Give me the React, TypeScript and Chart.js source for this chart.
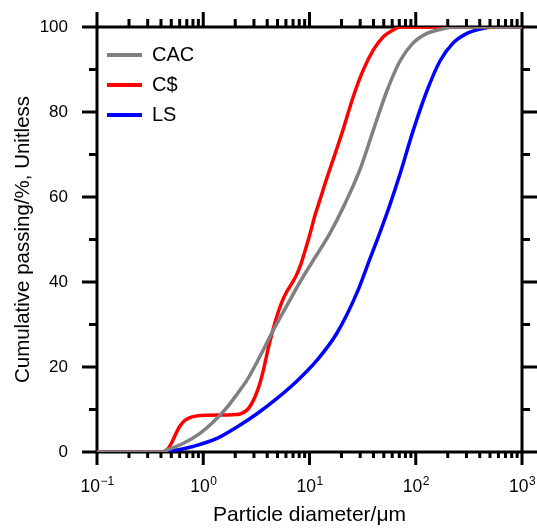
import { useEffect, useRef } from "react";
import { Chart, registerables } from "chart.js";

Chart.register(...registerables);

const FONT = '"Liberation Sans", Arial, Helvetica, sans-serif';

// Series names and colours (legend order)
const seriesNames = ["CAC", "C$", "LS"];
const seriesColors = ["#808080", "#ff0000", "#0000ff"];

// Cumulative passing curves: particle diameter (µm) vs passing (%)
const cacDiameter = [0.1, 0.41, 0.4365, 0.645, 0.932, 1.235, 1.673, 2.078, 2.58, 3.42, 4.53, 6.14, 8.14, 10.79, 15.6, 20.7, 29.9, 39.6, 53.6, 71.1, 94.2, 127.6, 169.1, 224.2, 1000];
const cacPassing = [0, 0, 0.3, 2, 4.4, 7, 10.5, 13.6, 16.9, 22.5, 28.5, 34.5, 40, 45, 51.5, 57.5, 66.5, 75.5, 85, 92, 96.2, 98.5, 99.4, 100, 100];

const csDiameter = [0.1, 0.42, 0.46, 0.5, 0.55, 0.6, 0.67, 0.75, 0.87, 1.1, 1.6, 2.06, 2.3, 2.56, 2.8, 3.07, 3.4, 3.7, 4.1, 4.56, 5.09, 5.6, 6.2, 6.8, 7.5, 8.3, 9.2, 10.1, 11.3, 12.6, 14.5, 16.75, 20.8, 25.8, 32.1, 39.9, 49.5, 61.5, 71, 1000];
const csPassing = [0, 0, 0.6, 2, 4.2, 6, 7.4, 8.1, 8.5, 8.65, 8.7, 8.8, 9.1, 9.8, 11, 13, 16, 19.5, 24.5, 29, 33, 35.8, 38, 39.6, 41.5, 44.2, 47.8, 51.3, 55.8, 59.5, 64.3, 68.9, 76, 83.6, 89.9, 94.6, 97.7, 99.3, 100, 100];

const lsDiameter = [0.1, 0.42, 0.4365, 0.604, 0.801, 1.347, 2.078, 3.205, 4.944, 7.627, 11.77, 18.15, 28.0, 37.1, 46.1, 57.2, 71.1, 94.2, 127.6, 169.1, 224.2, 303.6, 402.4, 533, 1000];
const lsPassing = [0, 0, 0.1, 0.6, 1.3, 3.2, 5.9, 9.0, 12.6, 16.7, 21.6, 28, 37.5, 45.5, 51.7, 58.2, 65.4, 75.5, 85, 92, 96.2, 98.5, 99.5, 100, 100];

// Axis ticks
const yMajorTicks = [0, 20, 40, 60, 80, 100];
const yMinorTicks = [10, 30, 50, 70, 90];
const xDecades = [0.1, 1, 10, 100, 1000];
const xExponents = ["\u22121", "0", "1", "2", "3"];
const xMinorMultipliers = [2, 3, 4, 5, 6, 7, 8, 9];

const MAJOR_LEN = 15;
const MINOR_LEN = 8;

const toPoints = (d: number[], v: number[]) => d.map((x, i) => ({ x, y: v[i] }));

// Boxed frame with outward major/minor ticks on all four sides, plus decade labels
const frameTicksPlugin = {
  id: "frameTicks",
  beforeDatasetsDraw(chart: any) {
    const { ctx, chartArea, scales } = chart;
    const { left, right, top, bottom } = chartArea;
    const xs = scales.x;
    const ys = scales.y;
    ctx.save();
    ctx.strokeStyle = "#000";
    ctx.lineWidth = 3;
    ctx.lineCap = "butt";
    ctx.strokeRect(left, top, right - left, bottom - top);

    ctx.beginPath();
    const yTick = (v: number, len: number) => {
      const py = ys.getPixelForValue(v);
      ctx.moveTo(left, py);
      ctx.lineTo(left - len, py);
      ctx.moveTo(right, py);
      ctx.lineTo(right + len, py);
    };
    yMajorTicks.forEach((v) => yTick(v, MAJOR_LEN));
    yMinorTicks.forEach((v) => yTick(v, MINOR_LEN));

    const xTick = (v: number, len: number) => {
      const px = xs.getPixelForValue(v);
      ctx.moveTo(px, bottom);
      ctx.lineTo(px, bottom + len - 2);
      ctx.moveTo(px, top);
      ctx.lineTo(px, top - len);
    };
    xDecades.forEach((v) => xTick(v, MAJOR_LEN));
    xDecades.slice(0, -1).forEach((dec) =>
      xMinorMultipliers.forEach((m) => xTick(m * dec, MINOR_LEN))
    );
    ctx.stroke();

    ctx.fillStyle = "#000";
    ctx.textBaseline = "alphabetic";
    ctx.textAlign = "left";
    const baseFont = `17.5px ${FONT}`;
    const expFont = `12px ${FONT}`;
    const baseline = bottom + 39.5;
    xDecades.forEach((v, i) => {
      ctx.font = baseFont;
      const wBase = ctx.measureText("10").width;
      ctx.font = expFont;
      const wExp = ctx.measureText(xExponents[i]).width;
      const px = xs.getPixelForValue(v);
      const x0 = px - (wBase + wExp) / 2;
      ctx.font = baseFont;
      ctx.fillText("10", x0, baseline);
      ctx.font = expFont;
      ctx.fillText(xExponents[i], x0 + wBase + 0.5, baseline - 6.5);
    });
    ctx.restore();
  },
};

export default function App() {
  const canvasRef = useRef<HTMLCanvasElement | null>(null);

  useEffect(() => {
    if (!canvasRef.current) return;
    Chart.defaults.font.family = FONT;
    Chart.defaults.color = "#000";

    const diameters = [cacDiameter, csDiameter, lsDiameter];
    const passing = [cacPassing, csPassing, lsPassing];

    const chart = new Chart(canvasRef.current, {
      type: "line",
      data: {
        datasets: seriesNames.map((name, i) => ({
          label: name,
          data: toPoints(diameters[i], passing[i]),
          borderColor: seriesColors[i],
          backgroundColor: seriesColors[i],
          borderWidth: 3.5,
          pointRadius: 0,
          fill: false,
          cubicInterpolationMode: "monotone" as const,
        })),
      },
      options: {
        responsive: false,
        animation: false,
        layout: { padding: { top: 27, right: 15, left: 0, bottom: 0 } },
        scales: {
          x: {
            type: "logarithmic",
            min: 0.1,
            max: 1000,
            grid: { display: false, drawTicks: false },
            border: { display: false },
            ticks: { display: false },
            title: {
              display: true,
              text: "Particle diameter/\u03bcm",
              font: { size: 21, family: FONT },
              color: "#000",
              padding: { top: 0, bottom: 3 },
            },
            afterFit: (s: any) => {
              s.height = 79;
              s.paddingLeft = 0;
              s.paddingRight = 0;
            },
          },
          y: {
            type: "linear",
            min: 0,
            max: 100,
            grid: { display: false, drawTicks: false },
            border: { display: false },
            ticks: {
              stepSize: 20,
              padding: 29,
              font: { size: 17, family: FONT },
              color: "#000",
            },
            title: {
              display: true,
              text: "Cumulative passing/%, Unitless",
              font: { size: 20.5, family: FONT },
              color: "#000",
              padding: { top: 11, bottom: 0 },
            },
            afterFit: (s: any) => {
              s.width = 97;
              s.paddingTop = 0;
              s.paddingBottom = 0;
            },
          },
        },
        plugins: {
          tooltip: { enabled: false },
          legend: {
            position: "chartArea" as any,
            align: "start",
            title: { display: true, text: "", padding: { top: 29, bottom: 0 }, font: { size: 5 } },
            labels: {
              boxWidth: 35,
              boxHeight: 4,
              padding: 10,
              color: "#000",
              font: { size: 20, family: FONT },
              generateLabels: (c: any) =>
                Chart.defaults.plugins.legend.labels
                  .generateLabels(c)
                  .map((l: any) => ({ ...l, lineWidth: 0, fillStyle: l.strokeStyle })),
            },
          },
        },
      },
      plugins: [frameTicksPlugin],
    });

    return () => chart.destroy();
  }, []);

  return (
    <div style={{ position: "fixed", left: 0, top: 0, width: 537, height: 531, background: "#fff" }}>
      <canvas ref={canvasRef} width={537} height={531} style={{ display: "block" }} />
    </div>
  );
}
